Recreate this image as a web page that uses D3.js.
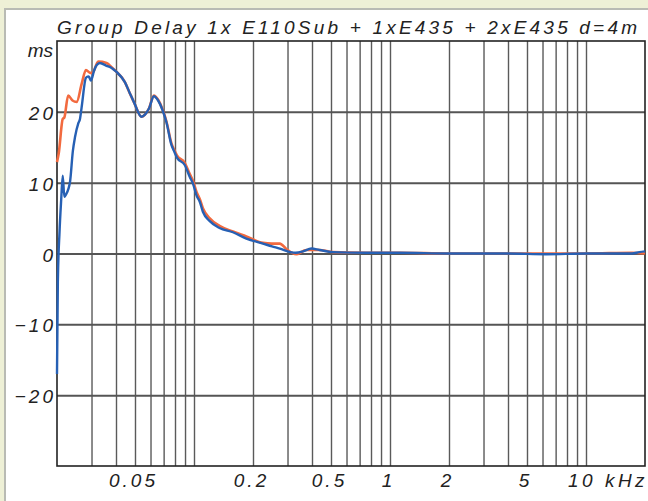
<!DOCTYPE html>
<html>
<head>
<meta charset="utf-8">
<script src="https://cdn.jsdelivr.net/npm/d3@7"></script>
<style>
  html, body { margin: 0; padding: 0; background: #eef0d6; }
  text { font-family: "Liberation Sans", Arial, sans-serif; font-style: italic; fill: #222; }
</style>
</head>
<body>
<svg id="chart" width="648" height="501"></svg>
<script>
// Group delay, frequency in Hz, delay in ms
const freqBlue = [20, 20.2, 20.6, 21.0, 21.4, 21.8, 22.2, 23.3, 24.1, 24.7, 25.7, 26.2, 26.7, 28.1, 28.9, 29.2, 29.8, 30.9, 31.9, 33.1, 35.8, 38, 40, 44.4, 47.1, 49.5, 54, 56.2, 59, 62.4, 65.6, 69, 72.4, 76.8, 79, 82, 89.7, 95.2, 99, 103, 107, 111, 120, 135, 158, 185, 225, 250, 274, 310, 330, 360, 397, 437, 511, 756, 1118, 2000, 4000, 6266, 10000, 17180, 18700, 20000];
const delayBlue = [-17, -4, 3, 7.5, 11, 8, 8.3, 10.1, 14.5, 16.4, 18.4, 19, 20.6, 24.8, 25.0, 24.9, 24.4, 25.8, 26.6, 26.9, 26.5, 26.2, 25.7, 24.2, 22.6, 21.3, 19.3, 19.6, 20.5, 22.2, 21.6, 20.3, 18.5, 15.3, 14.5, 13.5, 12.5, 10.8, 9.8, 8.2, 7.3, 5.9, 4.6, 3.6, 3.0, 2.1, 1.4, 1.0, 0.7, 0.2, 0.1, 0.3, 0.7, 0.5, 0.2, 0.1, 0.1, 0.0, 0.0, -0.1, 0.0, 0.0, 0.2, 0.3];

const freqRed = [20, 20.4, 21.4, 21.8, 22.8, 24, 25.2, 26.7, 28.1, 29.5, 30.4, 31.9, 32.5, 35.8, 38, 40, 44.4, 47.1, 49.5, 54, 56.2, 59, 62.4, 65.6, 69, 72.4, 76.8, 79, 82, 89.7, 95.2, 99, 103, 107, 111, 120, 135, 158, 185, 225, 250, 274, 297, 333, 374, 437, 511, 756, 1118, 2000, 4000, 6266, 10000, 17180, 20000];
const delayRed = [12.9, 14.1, 19.0, 19.2, 22.3, 21.6, 21.4, 23.9, 25.9, 25.5, 25.5, 26.8, 27.1, 26.9, 26.3, 25.7, 24.2, 22.6, 21.3, 19.3, 19.6, 20.5, 22.3, 21.7, 20.4, 18.6, 15.5, 14.7, 13.8, 12.8, 11.2, 10.2, 8.7, 7.7, 6.4, 5.0, 3.9, 3.1, 2.4, 1.5, 1.4, 1.4, 0.6, -0.1, 0.5, 0.5, 0.2, 0.1, 0.1, 0.0, 0.0, 0.0, 0.0, 0.1, 0.0];

const yTicks = [-20, -10, 0, 10, 20];
const xGrid = [30, 40, 50, 60, 70, 80, 90, 100, 200, 300, 400, 500, 600, 700, 800, 900,
               1000, 2000, 3000, 4000, 5000, 6000, 7000, 8000, 9000, 10000];
const xLabelFreq = [50, 200, 500, 1000, 2000, 5000];
const xLabelText = ["0.05", "0.2", "0.5", "1", "2", "5"];

const svg = d3.select("#chart");

// white panel with grey border
svg.append("rect")
   .attr("x", 5).attr("y", 9)
   .attr("width", 660).attr("height", 510)
   .attr("fill", "white")
   .attr("stroke", "#b9bbb4")
   .attr("stroke-width", 2);

const plot = {left: 57, right: 645, top: 41, bottom: 466};
const x = d3.scaleLog().domain([20, 20000]).range([plot.left, plot.right]);
const y = d3.scaleLinear().domain([-30, 30]).range([plot.bottom, plot.top]);

// vertical grid
const gx = svg.append("g")
    .attr("transform", `translate(0,${plot.bottom})`)
    .call(d3.axisBottom(x).tickValues(xGrid).tickSize(-(plot.bottom - plot.top)).tickFormat(""));
gx.select(".domain").remove();
gx.selectAll(".tick line").attr("stroke", "#5a5a5a").attr("stroke-width", 1.4);

// horizontal grid
const gy = svg.append("g")
    .attr("transform", `translate(${plot.left},0)`)
    .call(d3.axisLeft(y).tickValues(yTicks).tickSize(-(plot.right - plot.left)).tickFormat(""));
gy.select(".domain").remove();
gy.selectAll(".tick line").attr("stroke", "#555").attr("stroke-width", 2);

// frame
svg.append("rect")
   .attr("x", plot.left).attr("y", plot.top)
   .attr("width", plot.right - plot.left).attr("height", plot.bottom - plot.top)
   .attr("fill", "none")
   .attr("stroke", "#222")
   .attr("stroke-width", 1.6);

// curves
const line = d3.line()
    .x(d => x(d[0]))
    .y(d => y(d[1]))
    .curve(d3.curveMonotoneX);

const redData = freqRed.map((f, i) => [f, delayRed[i]]);
const blueData = freqBlue.map((f, i) => [f, delayBlue[i]]);

svg.append("path")
   .datum(redData)
   .attr("d", line)
   .attr("fill", "none")
   .attr("stroke", "#f26a3f")
   .attr("stroke-width", 2.6)
   .attr("stroke-linejoin", "round");

svg.append("path")
   .datum(blueData)
   .attr("d", line)
   .attr("fill", "none")
   .attr("stroke", "#2660b4")
   .attr("stroke-width", 2.4)
   .attr("stroke-linejoin", "round");

// y labels (trailing letter-spacing compensated in x)
svg.selectAll(".ylab")
   .data(yTicks)
   .join("text")
   .attr("class", "ylab")
   .attr("x", 56)
   .attr("y", d => y(d) + 8)
   .attr("text-anchor", "end")
   .style("font-size", "19px")
   .style("letter-spacing", "3px")
   .text(d => d < 0 ? "\u2212" + Math.abs(d) : d);

svg.append("text")
   .attr("x", 53).attr("y", 57)
   .attr("text-anchor", "end")
   .style("font-size", "19px")
   .text("ms");

// x labels
svg.selectAll(".xlab")
   .data(xLabelFreq)
   .join("text")
   .attr("class", "xlab")
   .attr("x", d => x(d) - 1.5)
   .attr("y", 487)
   .attr("text-anchor", "middle")
   .style("font-size", "19px")
   .style("letter-spacing", "3px")
   .text((d, i) => xLabelText[i]);

svg.append("text")
   .attr("x", x(10000) - 18).attr("y", 487)
   .style("font-size", "19px")
   .style("letter-spacing", "3.5px")
   .text("10 kHz");

// title
svg.append("text")
   .attr("x", 57).attr("y", 34)
   .attr("textLength", 580)
   .attr("lengthAdjust", "spacing")
   .style("font-size", "19px")
   .text("Group Delay 1x E110Sub + 1xE435 + 2xE435 d=4m");
</script>
</body>
</html>
